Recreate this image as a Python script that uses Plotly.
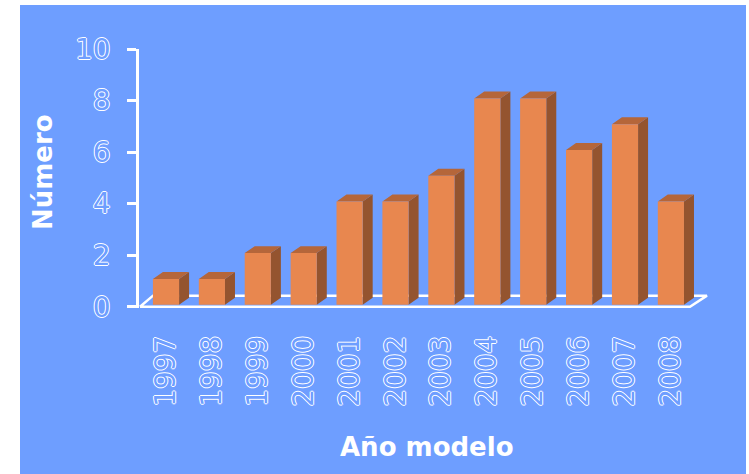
import plotly.graph_objects as go

# ---- data ----
years = ["1997", "1998", "1999", "2000", "2001", "2002", "2003", "2004", "2005", "2006", "2007", "2008"]
counts = [1, 1, 2, 2, 4, 4, 5, 8, 8, 6, 7, 4]
y_ticks = [0, 2, 4, 6, 8, 10]

# ---- style ----
BG = "#6E9EFF"
FRONT = "#E8874F"
SIDE = "#94542F"
TOP = "#B5663A"
W, H = 749, 474
L, R, T, B = 139, 29, 49, 166
PW, PH = W - L - R, H - T - B
XR = [-0.588, 12.07]
YR = [-0.05, 10]

bar_w = 0.57      # front face width (category units)
dx = 0.218        # 3D depth offset, x (category units)
dy = 0.27         # 3D depth offset, y (value units)
base = 0.08       # bars sit slightly behind the floor front edge
floor_dy = 0.43

n = len(counts)
idx = list(range(n))

def poly(pts):
    xs = [p[0] for p in pts] + [pts[0][0], None]
    ys = [p[1] for p in pts] + [pts[0][1], None]
    return xs, ys

fx, fy, sx, sy, tx, ty = [], [], [], [], [], []
for i, v in zip(idx, counts):
    l_, r_ = i - bar_w / 2, i + bar_w / 2
    top = base + v
    a, b = poly([(l_, base), (r_, base), (r_, top), (l_, top)])
    fx += a; fy += b
    a, b = poly([(r_, base), (r_ + dx, base + dy), (r_ + dx, top + dy), (r_, top)])
    sx += a; sy += b
    a, b = poly([(l_, top), (r_, top), (r_ + dx, top + dy), (l_ + dx, top + dy)])
    tx += a; ty += b

# floor parallelogram (perspective)
flx = [-0.566, n - 0.584, n - 0.214, -0.283, -0.566]
fly = [0, 0, floor_dy, floor_dy, 0]

fig = go.Figure()
fig.add_trace(go.Scatter(x=flx, y=fly, mode="lines", line=dict(color="white", width=2.5),
                         hoverinfo="skip", showlegend=False))
fig.add_trace(go.Scatter(x=sx, y=sy, mode="lines", fill="toself", fillcolor=SIDE,
                         line=dict(width=0, color=SIDE), hoverinfo="skip", showlegend=False))
fig.add_trace(go.Scatter(x=tx, y=ty, mode="lines", fill="toself", fillcolor=TOP,
                         line=dict(width=0, color=TOP), hoverinfo="skip", showlegend=False))
fig.add_trace(go.Scatter(x=fx, y=fy, mode="lines", fill="toself", fillcolor=FRONT,
                         line=dict(width=0, color=FRONT), hoverinfo="skip", showlegend=False))

outline = "1px 0 0 #fff, -1px 0 0 #fff, 0 1px 0 #fff, 0 -1px 0 #fff"
tickfont = dict(family="DejaVu Sans", size=28, color=BG, shadow=outline)

fig.update_xaxes(range=XR, tickmode="array", tickvals=idx, ticktext=years, tickangle=-90,
                 showline=False, showgrid=False, zeroline=False, ticks="",
                 tickfont=tickfont, ticklabelstandoff=21, fixedrange=True)
fig.update_yaxes(range=YR, tickmode="array", tickvals=y_ticks, showline=True, linecolor="white",
                 linewidth=2.5, ticks="outside", ticklen=9, tickwidth=2.5, tickcolor="white",
                 showgrid=False, zeroline=False, tickfont=tickfont, ticklabelstandoff=11,
                 fixedrange=True)

def px2x(px):
    return (px - L) / PW

def px2y(py):
    return (H - B - py) / PH

fig.add_shape(type="rect", xref="paper", yref="paper", x0=px2x(20), x1=px2x(746),
              y0=px2y(480), y1=px2y(5), fillcolor=BG, line=dict(width=0), layer="below")

titlefont = dict(family="DejaVu Sans", size=26, color="white", weight="bold")
fig.add_annotation(text="Año modelo", xref="paper", yref="paper", x=px2x(426.5), y=px2y(447),
                   showarrow=False, font=titlefont, xanchor="center", yanchor="middle")
fig.add_annotation(text="Número", xref="paper", yref="paper", x=px2x(43), y=px2y(172),
                   showarrow=False, font=titlefont, textangle=-90, xanchor="center", yanchor="middle")

fig.update_layout(width=W, height=H, margin=dict(l=L, r=R, t=T, b=B, autoexpand=False),
                  paper_bgcolor="white", plot_bgcolor="rgba(0,0,0,0)", showlegend=False)

fig.write_html("out.html")
